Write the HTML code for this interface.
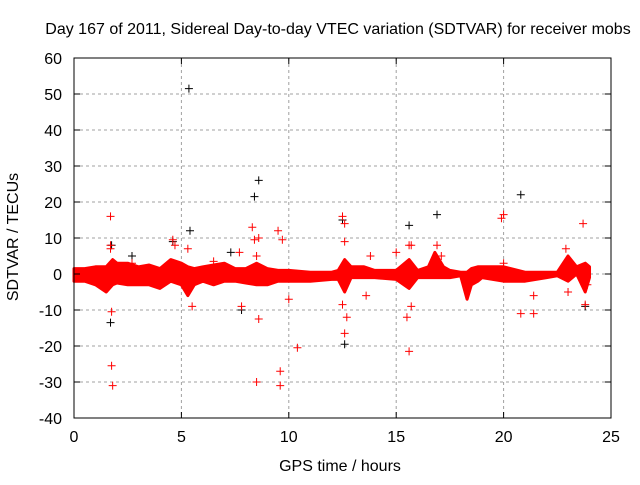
<!DOCTYPE html>
<html><head><meta charset="utf-8"><style>
body{margin:0;background:#fff}
text{font-family:"Liberation Sans",sans-serif;font-size:16px;fill:#000}
</style></head><body>
<svg id="c" width="640" height="480">
<text x="338" y="34" text-anchor="middle">Day 167 of 2011, Sidereal Day-to-day VTEC variation (SDTVAR) for receiver mobs</text>
<text x="18" y="237" text-anchor="middle" transform="rotate(-90 18 237)">SDTVAR / TECUs</text>
<text x="340" y="471" text-anchor="middle">GPS time / hours</text>
<g id="grid"></g><g id="band"></g><g id="pts"></g><g id="axes"></g>
</svg>
<script>
const xTicks=[0,5,10,15,20,25];
const yTicks=[60,50,40,30,20,10,0,-10,-20,-30,-40];
const bandHours=[0,0.5,1,1.5,1.8,2,2.5,3,3.5,4,4.5,5,5.3,5.6,6,6.5,7,7.5,8,8.5,9,9.5,10,11,12,12.3,12.6,12.9,13.5,14,15,15.6,16,16.5,16.8,17.2,17.5,18,18.3,18.5,18.8,19,20,21,21.5,22,22.5,23,23.4,23.8,24];
const bandUpper=[1.5,1.5,2,2,4,3,3,2,2.5,1.5,4,3,2,1.5,2,2.5,3,1.5,1.5,3,1.5,1,1,0.5,0.5,1,4,2,2,1,1,4,1,2,6,2,1,0.5,0.5,1.5,2,2,2,0.5,0.5,0.5,0.5,5,2,3,2];
const bandLower=[-2,-2,-3,-5,-3,-2.5,-3,-3,-3,-4,-2,-3,-6,-3,-2,-3,-2,-2,-2.5,-3,-3,-2,-2,-2,-1.5,-1.5,-5,-1,-1,-1,-1.5,-4,-1,-1,-1,-1,-1,-0.5,-7,-3,-2,-1,-2,-2,-1.5,-1,-0.5,-2,0,-5,-1];
const redX=[1.7,1.7,1.75,1.75,1.8,1.7,2.7,4.6,4.7,5.3,5.5,6.5,7.7,7.8,8.3,8.4,8.5,8.6,8.5,8.6,9.5,9.6,9.6,9.7,10.0,10.4,12.5,12.6,12.6,12.5,12.6,12.7,13.6,13.8,15.0,15.5,15.6,15.6,15.7,15.7,16.9,17.1,19.9,20.0,20.0,20.8,21.4,21.4,22.9,23.0,23.7,23.8,23.9];
const redY=[16,8,-10.5,-25.5,-31,7,3,9.5,8,7,-9,3.5,6,-9,13,9.5,5,-12.5,-30,10,12,-27,-31,9.5,-7,-20.5,16,14,9,-8.5,-16.5,-12,-6,5,6,-12,8,-21.5,-9,8,8,5,15.5,16.5,3,-11,-6,-11,7,-5,14,-8.5,-3];
const blackX=[1.7,1.75,2.7,4.6,5.35,5.4,7.3,7.8,8.4,8.6,12.5,12.6,15.6,16.9,20.8,23.8];
const blackY=[-13.5,8,5,9,51.5,12,6,-10,21.5,26,15,-19.5,13.5,16.5,22,-9];
const X=v=>74+v*(611-74)/25, Y=v=>274-v*3.6;
const NS='http://www.w3.org/2000/svg';
function mk(t,a,p){const e=document.createElementNS(NS,t);for(const k in a)e.setAttribute(k,a[k]);p.appendChild(e);return e;}
const grid=document.getElementById('grid'),axes=document.getElementById('axes');
xTicks.forEach(t=>{
 if(t>0&&t<25){const g=mk('line',{x1:X(t),x2:X(t),y1:Y(60),y2:Y(-40),stroke:'#a0a0a0','stroke-dasharray':'3,3'},grid);
 
 }
 const l=mk('text',{x:X(t),y:Y(-40)+24,'text-anchor':'middle'},axes);l.textContent=t;
 
 
 mk('line',{x1:X(t),x2:X(t),y1:Y(-40),y2:Y(-40)-6,stroke:'#000'},axes);
 mk('line',{x1:X(t),x2:X(t),y1:Y(60),y2:Y(60)+6,stroke:'#000'},axes);
});
yTicks.forEach(t=>{
 if(t<60&&t>-40){const g=mk('line',{x1:X(0),x2:X(25),y1:Y(t),y2:Y(t),stroke:'#a0a0a0','stroke-dasharray':'3,3'},grid);
 
 }
 const l=mk('text',{x:62,y:Y(t)+6,'text-anchor':'end'},axes);l.textContent=t;
 
 
 mk('line',{x1:X(0),x2:X(0)+6,y1:Y(t),y2:Y(t),stroke:'#000'},axes);
 mk('line',{x1:X(25),x2:X(25)-6,y1:Y(t),y2:Y(t),stroke:'#000'},axes);
});
const fr=mk('rect',{x:X(0),y:Y(60),width:X(25)-X(0),height:Y(-40)-Y(60),fill:'none',stroke:'#000'},axes);


let pts=bandHours.map((h,i)=>X(h)+','+Y(bandUpper[i]));
for(let i=bandHours.length-1;i>=0;i--)pts.push(X(bandHours[i])+','+Y(bandLower[i]));
const band=mk('polygon',{points:pts.join(' '),fill:'#f00',stroke:'#f00','stroke-width':3,'stroke-linejoin':'round'},document.getElementById('band'));


const pg=document.getElementById('pts');
function cross(x,y,c,name){const g=mk('path',{d:`M${X(x)-4},${Y(y)}h8M${X(x)},${Y(y)-4}v8`,stroke:c,'stroke-width':1},pg);
 
 }
blackX.forEach((x,i)=>cross(x,blackY[i],'#000','black-point'));
redX.forEach((x,i)=>cross(x,redY[i],'#f00','red-point'));
</script>
</body></html>
